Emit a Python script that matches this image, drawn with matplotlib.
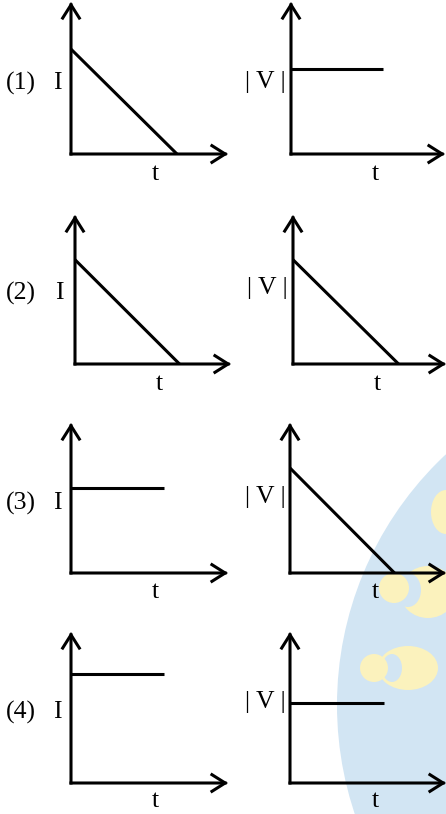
import matplotlib
matplotlib.use('Agg')
import matplotlib.pyplot as plt
from matplotlib.patches import Circle, Ellipse

W, H = 446, 814

# option labels and curve shapes (axis fractions: level on y, end point on t)
options = ['(1)', '(2)', '(3)', '(4)']
i_kind = ['ramp', 'ramp', 'const', 'const']
i_level = [0.69, 0.70, 0.57, 0.72]
i_end = [0.675, 0.67, 0.59, 0.59]
v_kind = ['const', 'ramp', 'ramp', 'const']
v_level = [0.56, 0.70, 0.70, 0.53]
v_end = [0.60, 0.69, 0.67, 0.60]

# panel boxes in pixels: origin x, arrow tip x, origin y, arrow tip y
left_box = [(71, 228, 154, 2), (75, 231, 364, 215), (71, 228, 573, 423), (71, 228, 783, 632)]
right_box = [(291, 445, 154, 2), (293, 446, 364, 215), (290, 446, 573, 423), (290, 446, 783, 632)]

FONT = 'Liberation Serif'
LW = 2.2

fig = plt.figure(figsize=(W / 100, H / 100), dpi=100)

# watermark behind everything
bg = fig.add_axes([0, 0, 1, 1])
bg.set_xlim(0, W)
bg.set_ylim(H, 0)
bg.axis('off')
blue = '#d2e5f3'
yellow = '#fbf2bd'
bg.add_patch(Circle((680, 705), 343, color=blue, lw=0))
bg.add_patch(Ellipse((446, 512), 30, 44, color=yellow, lw=0))
bg.add_patch(Ellipse((428, 592), 56, 52, color=yellow, lw=0))
bg.add_patch(Ellipse((408, 590), 26, 34, color=blue, lw=0))
bg.add_patch(Circle((394, 588), 15, color=yellow, lw=0))
bg.add_patch(Ellipse((408, 668), 60, 44, color=yellow, lw=0))
bg.add_patch(Ellipse((392, 668), 20, 28, color=blue, lw=0))
bg.add_patch(Circle((374, 668), 14, color=yellow, lw=0))


def panel(box, kind, level, end):
    x0, x1, y0, y1 = box
    ax = fig.add_axes([x0 / W, 1 - y0 / H, (x1 - x0) / W, (y0 - y1) / H])
    ax.set_xlim(0, 1)
    ax.set_ylim(0, 1)
    ax.axis('off')
    head = dict(arrowstyle='->,head_length=0.95,head_width=0.6', lw=LW,
                color='black', mutation_scale=10, shrinkA=0, shrinkB=0,
                capstyle='projecting', joinstyle='miter')
    ax.annotate('', xy=(1, 0), xytext=(0, 0), arrowprops=head,
                annotation_clip=False)
    ax.annotate('', xy=(0, 1), xytext=(0, 0), arrowprops=head,
                annotation_clip=False)
    if kind == 'ramp':
        ax.plot([0, end], [level, 0], color='black', lw=LW, clip_on=False,
                solid_capstyle='butt')
    else:
        ax.plot([0, end], [level, level], color='black', lw=LW, clip_on=False,
                solid_capstyle='butt')
    return ax


for k in range(4):
    panel(left_box[k], i_kind[k], i_level[k], i_end[k])
    panel(right_box[k], v_kind[k], v_level[k], v_end[k])


def label(x, y, s, size=18.5):
    fig.text(x / W, 1 - y / H, s, ha='center', va='center',
             fontsize=size, family=FONT)


opt_y = [83, 293, 503, 712]
i_pos = [(57, 83), (59, 293), (57, 503), (57, 712)]
v_pos = [(265, 82), (267, 288), (265, 497), (265, 702)]
t_left = [(155, 174), (159, 384), (155, 592), (155, 801)]
t_right = [(375, 174), (377, 384), (375, 592), (375, 801)]

for k in range(4):
    label(21, opt_y[k], options[k])
    label(*i_pos[k], 'I')
    label(*v_pos[k], '| V |')
    label(*t_left[k], 't')
    label(*t_right[k], 't')

fig.savefig('out.png', dpi=100)
